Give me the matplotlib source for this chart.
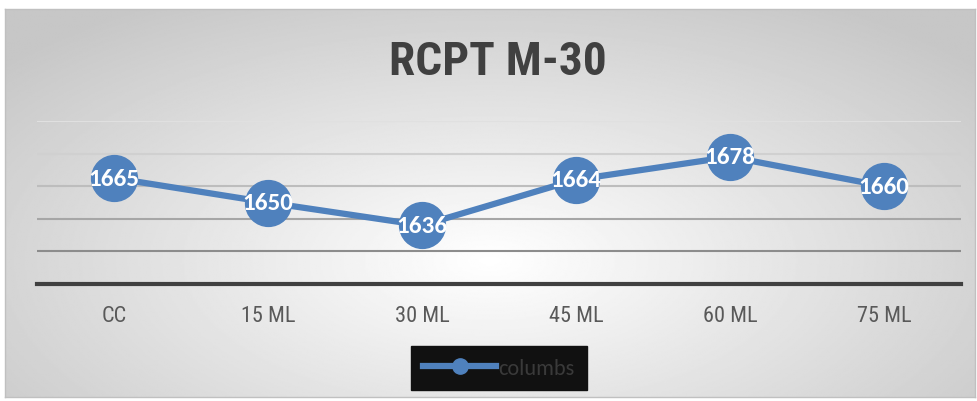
import numpy as np
import matplotlib.pyplot as plt
from matplotlib import font_manager

categories = ['CC', '15 ML', '30 ML', '45 ML', '60 ML', '75 ML']
values = [1665, 1650, 1636, 1664, 1678, 1660]
series_name = 'columbs'
title = 'RCPT M-30'

names = {f.name for f in font_manager.fontManager.ttflist}


def pick(cands):
    for c in cands:
        if c in names:
            return c
    return 'DejaVu Sans'


narrow = pick(['Roboto Condensed', 'Liberation Sans Narrow', 'Roboto'])
calib = pick(['Carlito', 'Roboto Condensed', 'Liberation Sans Narrow'])

W, H = 978, 402
fig = plt.figure(figsize=(W / 100, H / 100), dpi=100)
fig.patch.set_facecolor('white')

# chart area with radial gradient
bg = fig.add_axes([5 / W, 1 - 398 / H, 970 / W, 388 / H])
yy, xx = np.mgrid[-1:1:300j, -1:1:600j]
r = np.sqrt((xx / 1.1) ** 2 + ((yy - 0.3) / 1.3) ** 2)
r = np.clip(r / 1.2, 0, 1)
shade = 1.0 - 0.22 * r
bg.imshow(shade, cmap='gray', vmin=0, vmax=1, aspect='auto', extent=[0, 1, 0, 1])
bg.set_xlim(0, 1)
bg.set_ylim(0, 1)
for s in bg.spines.values():
    s.set_color('#c0c0c0')
    s.set_linewidth(1)
bg.set_xticks([])
bg.set_yticks([])

# plot area
ax = fig.add_axes([37 / W, 1 - 285 / H, 924 / W, 163 / H])
ax.patch.set_alpha(0)
x = np.arange(len(categories))
ax.set_xlim(-0.5, len(categories) - 0.5)
ax.set_ylim(1600, 1700)
for gv, c in zip([1620, 1640, 1660, 1680, 1700], ['#8c8c8c', '#a6a6a6', '#bdbdbd', '#d0d0d0', '#e0e0e0']):
    ax.axhline(gv, color=c, lw=1.5, zorder=1)
ax.plot(x, values, color='#4f81bd', lw=4.5, marker='o', markersize=33,
        markerfacecolor='#4f81bd', markeredgecolor='#4f81bd', zorder=3,
        label=series_name, clip_on=False)
for xi, v in zip(x, values):
    ax.text(xi, v, str(v), ha='center', va='center', color='white',
            fontsize=18, fontweight='bold', family=calib, zorder=4)
for s in ['top', 'right', 'left']:
    ax.spines[s].set_visible(False)
ax.spines['bottom'].set_color('#404040')
ax.spines['bottom'].set_linewidth(3)
ax.set_yticks([])
ax.set_xticks(x)
ax.set_xticklabels(categories, fontsize=16, color='#595959', family=narrow)
ax.tick_params(axis='x', length=0, pad=15)

fig.text(498 / W, 1 - 75 / H, title, ha='center', va='baseline', fontsize=34,
         fontweight='bold', color='#404040', family=narrow)

# legend
leg = fig.legend(loc='center', bbox_to_anchor=(499 / W, 1 - 369 / H),
                 handles=[plt.Line2D([], [], color='#4f81bd', lw=4.5, marker='o', markersize=11)],
                 labels=[series_name], frameon=True, fancybox=False,
                 prop={'family': calib, 'size': 16}, handlelength=3.3,
                 handletextpad=0.1, borderpad=0.55, borderaxespad=0)
leg.get_frame().set_facecolor('#111111')
leg.get_frame().set_edgecolor('#111111')
leg.get_frame().set_alpha(1)
for t in leg.get_texts():
    t.set_color('#3a3a3a')

fig.savefig('out.png', dpi=100)
